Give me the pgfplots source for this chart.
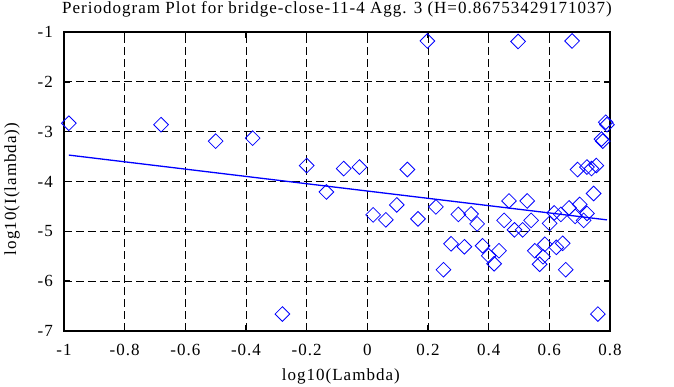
\documentclass[border=0pt]{standalone}
\usepackage{pgfplots}
\pgfplotsset{compat=1.18}
\usepackage{fontspec}
\setmainfont{Liberation Serif}[LetterSpace=6]
\begin{document}
\fontsize{17}{20}\selectfont
\begin{tikzpicture}[x=1pt,y=1pt]
\path[use as bounding box] (-64,-56) rectangle (610,331);
\begin{axis}[
  at={(0,0)}, anchor=south west,
  scale only axis, width=546pt, height=299pt,
  xmin=-1, xmax=0.8, ymin=-7, ymax=-1,
  xtick={-1,-0.8,-0.6,-0.4,-0.2,0,0.2,0.4,0.6,0.8},
  ytick={-7,-6,-5,-4,-3,-2,-1},
  /pgf/number format/assume math mode=true,
  /pgf/number format/fixed,
  tick label style={font=\fontsize{17}{20}\selectfont, inner sep=0pt},
  xticklabel style={anchor=base, yshift=-25pt},
  yticklabel style={anchor=east, xshift=-11pt},
  tick align=inside,
  major tick length=6pt,
  tick style={black, line width=1.6pt},
  axis line style={black, line width=2pt},
  grid=major,
  major grid style={black, line width=0.9pt, dash pattern=on 8pt off 4pt},
  every axis title shift=0pt,
  title={Periodogram Plot for bridge-close-11-4 Agg. 3 (H=0.86753429171037)},
  title style={at={(axis description cs:0.5,1.0625)}, anchor=base, inner sep=0pt, font=\fontsize{17}{20}\selectfont},
  xlabel={log10(Lambda)},
  xlabel style={at={(axis description cs:0.507,-0.1672)}, anchor=base, inner sep=0pt, font=\fontsize{17}{20}\selectfont},
  ylabel={log10(I(lambda))},
  ylabel style={at={(axis description cs:-0.0879,0.475)}, anchor=base, inner sep=0pt, font=\fontsize{17}{20}\selectfont},
]
\addplot[only marks, mark=square, mark size=5.2pt,
  mark options={rotate=45, draw=blue, fill=none, line width=0.8pt, solid}]
coordinates {
(-0.984,-2.83) (-0.68,-2.86) (-0.50,-3.19) (-0.378,-3.13) (-0.28,-6.66)
(-0.20,-3.68) (-0.135,-4.21) (-0.078,-3.74) (-0.026,-3.71) (0.019,-4.67)
(0.061,-4.77) (0.097,-4.47) (0.132,-3.76) (0.167,-4.75) (0.198,-1.18)
(0.226,-4.51) (0.251,-5.77) (0.276,-5.25) (0.30,-4.66) (0.320,-5.31)
(0.342,-4.65) (0.362,-4.85) (0.38,-5.29) (0.40,-5.49) (0.418,-5.65)
(0.434,-5.39) (0.451,-4.78) (0.467,-4.39) (0.485,-4.97) (0.497,-1.19)
(0.512,-4.97) (0.527,-4.39) (0.540,-4.78) (0.552,-5.39) (0.568,-5.66)
(0.579,-5.51) (0.585,-5.26) (0.601,-4.84) (0.616,-4.63) (0.623,-5.32)
(0.638,-4.66) (0.644,-5.24) (0.654,-5.77) (0.665,-4.53) (0.675,-1.18)
(0.685,-4.70) (0.693,-3.76) (0.70,-4.46) (0.713,-4.78) (0.724,-4.64)
(0.724,-3.71) (0.739,-3.74) (0.746,-4.24) (0.755,-3.68) (0.760,-6.66)
(0.772,-3.15) (0.776,-3.19) (0.786,-2.81) (0.790,-2.86)
};
\addplot[blue, line width=1.3pt, no marks] coordinates {(-0.984,-3.47) (0.79,-4.77)};
\end{axis}
\end{tikzpicture}
\end{document}
